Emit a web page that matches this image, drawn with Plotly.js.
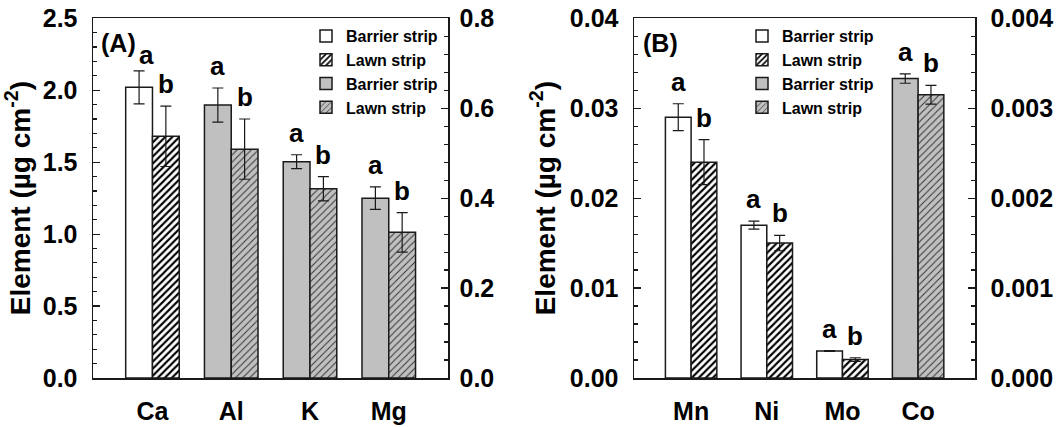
<!DOCTYPE html>
<html>
<head>
<meta charset="utf-8">
<script src="https://cdn.plot.ly/plotly-3.0.1.min.js"></script>
<style>html,body{margin:0;padding:0;background:#fff;}#chart{width:1063px;height:427px;}</style>
</head>
<body>
<div id="chart"></div>
<script>
// ---------- DATA ----------
// Panel A (left axis: Ca; right axis: Al, K, Mg)
const catsA = ['Ca', 'Al', 'K', 'Mg'];
const catsA_left = ['Ca'];
const barrierA_left = [2.02];
const barrierA_left_err = [0.115];
const lawnA_left = [1.68];
const lawnA_left_err = [0.21];
const catsA_right = ['Al', 'K', 'Mg'];
const barrierA_right = [0.607, 0.481, 0.400];
const barrierA_right_err = [0.038, 0.0155, 0.025];
const lawnA_right = [0.509, 0.421, 0.324];
const lawnA_right_err = [0.067, 0.027, 0.044];

// Panel B (left axis: Mn, Ni, Mo; right axis: Co)
const catsB = ['Mn', 'Ni', 'Mo', 'Co'];
const catsB_left = ['Mn', 'Ni', 'Mo'];
const barrierB_left = [0.0290, 0.0170, 0.0030];
const barrierB_left_err = [0.0015, 0.00045, 0.00005];
const lawnB_left = [0.0240, 0.0150, 0.00205];
const lawnB_left_err = [0.0025, 0.00085, 0.0002];
const catsB_right = ['Co'];
const barrierB_right = [0.00333];
const barrierB_right_err = [0.000052];
const lawnB_right = [0.00315];
const lawnB_right_err = [0.000104];

const letterBarrier = 'a';
const letterLawn = 'b';
const seriesNames = ['Barrier strip', 'Lawn strip'];

// ---------- STYLE ----------
const FONT = 'Liberation Sans, Arial, Helvetica, sans-serif';
const INK = '#1a1a1a';
const GRAY = '#c0c0c0';
const BW = 0.34;

function errCfg(arr) {
  return {type: 'data', array: arr, visible: true, color: INK, thickness: 1.2, width: 5.5};
}
function barTrace(x, y, err, name, isLawn, isGray, xa, ya, legend) {
  const marker = {
    color: isGray ? GRAY : '#ffffff',
    line: {color: INK, width: 1.5}
  };
  if (isLawn) {
    marker.pattern = isGray
      ? {shape: '/', fgcolor: '#333333', bgcolor: GRAY, size: 5, solidity: 0.2, fillmode: 'replace'}
      : {shape: '/', fgcolor: '#000000', bgcolor: '#ffffff', size: 5, solidity: 0.42, fillmode: 'replace'};
  }
  return {
    type: 'bar', x: x, y: y, name: name, xaxis: xa, yaxis: ya, legend: legend,
    width: BW, offset: isLawn ? 0 : -BW, marker: marker, error_y: errCfg(err),
    hoverinfo: 'skip'
  };
}

const traces = [
  barTrace(catsA_left, barrierA_left, barrierA_left_err, seriesNames[0], false, false, 'x', 'y', 'legend'),
  barTrace(catsA_left, lawnA_left, lawnA_left_err, seriesNames[1], true, false, 'x', 'y', 'legend'),
  barTrace(catsA_right, barrierA_right, barrierA_right_err, seriesNames[0], false, true, 'x', 'y2', 'legend'),
  barTrace(catsA_right, lawnA_right, lawnA_right_err, seriesNames[1], true, true, 'x', 'y2', 'legend'),
  barTrace(catsB_left, barrierB_left, barrierB_left_err, seriesNames[0], false, false, 'x2', 'y3', 'legend2'),
  barTrace(catsB_left, lawnB_left, lawnB_left_err, seriesNames[1], true, false, 'x2', 'y3', 'legend2'),
  barTrace(catsB_right, barrierB_right, barrierB_right_err, seriesNames[0], false, true, 'x2', 'y4', 'legend2'),
  barTrace(catsB_right, lawnB_right, lawnB_right_err, seriesNames[1], true, true, 'x2', 'y4', 'legend2')
];

// significance letters
const annotations = [];
function addLetters(cats, allCats, vals, errs, letter, dx, xref, yref, tweak) {
  cats.forEach((c, i) => {
    const t = (tweak && tweak[i]) || {xs: 0, ys: 0};
    annotations.push({
      x: allCats.indexOf(c) + dx, y: vals[i] + errs[i], xref: xref, yref: yref,
      text: letter, showarrow: false, yanchor: 'bottom', xanchor: 'center',
      yshift: 5 + t.ys, xshift: t.xs,
      font: {family: FONT, size: 26, color: '#000', weight: 'bold'}
    });
  });
}
// first letter sits tucked beside the (A) label, as in the source figure
addLetters(catsA_left, catsA, barrierA_left, barrierA_left_err, letterBarrier, -BW / 2, 'x', 'y', [{xs: 7, ys: -6}]);
addLetters(catsA_left, catsA, lawnA_left, lawnA_left_err, letterLawn, BW / 2, 'x', 'y');
addLetters(catsA_right, catsA, barrierA_right, barrierA_right_err, letterBarrier, -BW / 2, 'x', 'y2');
addLetters(catsA_right, catsA, lawnA_right, lawnA_right_err, letterLawn, BW / 2, 'x', 'y2');
addLetters(catsB_left, catsB, barrierB_left, barrierB_left_err, letterBarrier, -BW / 2, 'x2', 'y3');
addLetters(catsB_left, catsB, lawnB_left, lawnB_left_err, letterLawn, BW / 2, 'x2', 'y3');
addLetters(catsB_right, catsB, barrierB_right, barrierB_right_err, letterBarrier, -BW / 2, 'x2', 'y4');
addLetters(catsB_right, catsB, lawnB_right, lawnB_right_err, letterLawn, BW / 2, 'x2', 'y4');

// panel labels
annotations.push({xref: 'paper', yref: 'paper', x: 99 / 1063, y: 1 - 43 / 427, xanchor: 'left', yanchor: 'middle',
  text: '(A)', showarrow: false, font: {family: FONT, size: 25, color: '#000', weight: 'bold'}});
annotations.push({xref: 'paper', yref: 'paper', x: 641 / 1063, y: 1 - 43 / 427, xanchor: 'left', yanchor: 'middle',
  text: '(B)', showarrow: false, font: {family: FONT, size: 25, color: '#000', weight: 'bold'}});

const tickFont = {family: FONT, size: 25, color: '#000', weight: 'bold'};
const yTitle = 'Element (µg cm<sup>-2</sup>)';
const yDom = [49 / 427, 1 - 18.3 / 427];

function xAxis(domain, cats, anchor) {
  return {
    domain: domain, anchor: anchor, type: 'category', categoryorder: 'array', categoryarray: cats,
    range: [-0.755, 3.752], showline: true, mirror: true, linecolor: INK, linewidth: 1.5,
    ticks: '', showgrid: false, zeroline: false, tickfont: tickFont, ticklabelstandoff: 10,
    fixedrange: true
  };
}
function yAxis(range, dtick, minor, fmt, side, anchor, overlaying, title, standoff) {
  const ax = {
    domain: yDom, anchor: anchor, range: range, dtick: dtick, tick0: 0, tickformat: fmt, side: side,
    ticks: 'inside', ticklen: 7, tickwidth: 1.2, tickcolor: INK,
    minor: {dtick: minor, tick0: 0, ticks: 'inside', ticklen: 4, tickwidth: 1.2, tickcolor: INK, showgrid: false},
    showline: true, linecolor: INK, linewidth: 1.5, showgrid: false, zeroline: false,
    tickfont: tickFont, ticklabelstandoff: standoff, fixedrange: true, automargin: false
  };
  if (overlaying) ax.overlaying = overlaying;
  if (title) ax.title = {text: title, font: {family: FONT, size: 28, color: '#000', weight: 'bold'}, standoff: 6};
  return ax;
}

const legendBase = {
  bgcolor: 'rgba(0,0,0,0)', borderwidth: 0, traceorder: 'normal', orientation: 'v',
  font: {family: FONT, size: 16, color: '#000', weight: 'bold'}, tracegroupgap: 0,
  xanchor: 'left', yanchor: 'top', itemclick: false, itemdoubleclick: false
};

const layout = {
  width: 1063, height: 427,
  margin: {l: 0, r: 0, t: 0, b: 0},
  paper_bgcolor: '#fff', plot_bgcolor: 'rgba(0,0,0,0)',
  font: {family: FONT, size: 16, color: '#000', weight: 'bold'},
  barmode: 'overlay',
  showlegend: true,
  xaxis: xAxis([93 / 1063, 448 / 1063], catsA, 'y'),
  yaxis: yAxis([0, 2.5], 0.5, 0.1, '.1f', 'left', 'x', null, yTitle, 9),
  yaxis2: yAxis([0, 0.8], 0.2, 0.04, '.1f', 'right', 'x', 'y', null, 5),
  xaxis2: xAxis([634 / 1063, 975 / 1063], catsB, 'y3'),
  yaxis3: yAxis([0, 0.04], 0.01, 0.002, '.2f', 'left', 'x2', null, yTitle, 9),
  yaxis4: yAxis([0, 0.004], 0.001, 0.0002, '.3f', 'right', 'x2', 'y3', null, 9),
  legend: Object.assign({}, legendBase, {x: 306 / 1063, y: 1 - 19 / 427}),
  legend2: Object.assign({}, legendBase, {x: 742 / 1063, y: 1 - 19 / 427}),
  annotations: annotations
};

Plotly.newPlot('chart', traces, layout, {displayModeBar: false, staticPlot: true});
</script>
</body>
</html>
